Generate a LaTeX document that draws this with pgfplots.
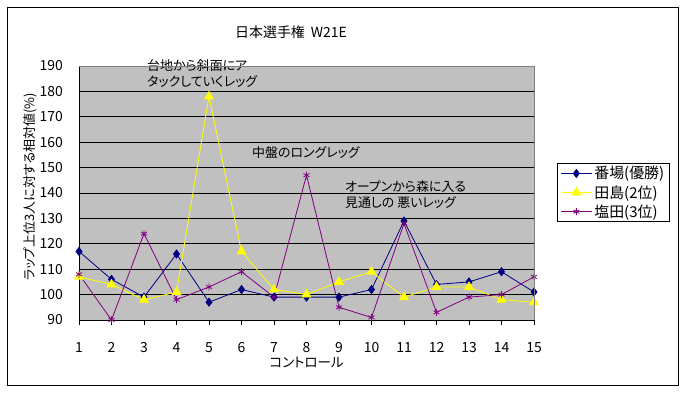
\documentclass[border=0pt]{standalone}
\usepackage{fontspec}
\setmainfont{Noto Sans CJK JP}[RawFeature=+palt]
\usepackage{pgfplots}
\pgfplotsset{compat=1.18}
\definecolor{plotbg}{HTML}{C0C0C0}
\definecolor{bordergray}{HTML}{808080}
\definecolor{navyc}{HTML}{000080}
\definecolor{yell}{HTML}{FFFF00}
\definecolor{purp}{HTML}{800080}
\newcommand{\fs}[1]{\fontsize{#1}{#1}\selectfont}
\begin{document}
\begin{tikzpicture}
\path[use as bounding box] (0bp,0bp) rectangle (687bp,394bp);
\draw[line width=1bp] (7.5bp,8bp) rectangle (678.5bp,386.5bp);
\begin{axis}[
  at={(79bp,74bp)}, anchor=south west,
  scale only axis, width=455bp, height=254bp,
  xmin=1, xmax=15, ymin=90, ymax=190,
  xtick={1,...,15}, ytick={90,100,...,190},
  /pgf/number format/assume math mode=true,
  tick label style={font=\fs{14}},
  xticklabel style={anchor=base, inner sep=0pt, yshift=-27bp},
  yticklabel style={anchor=east, inner sep=0pt, xshift=-11bp},
  tick align=outside,
  x tick style={black, line width=0.8bp},
  xtick pos=bottom, ytick pos=left,
  major tick length=5bp,
  y tick style={draw=none},
  axis x line*=bottom, axis y line*=left,
  axis line style={-, black, line width=0.8bp},
  axis background/.style={fill=plotbg},
  ymajorgrids, grid style={black, line width=0.8bp},
  clip=false,
  xlabel={コントロール},
  xlabel style={font=\fs{13.5}, at={(axis description cs:0.5,0)}, anchor=center, yshift=-42bp},
  ylabel={ラップ上位3人に対する相対値(\%)},
  ylabel style={font=\fs{13}, at={(axis description cs:-0.106,0.524)}, anchor=center},
  legend style={at={(1.0505,0.618)}, anchor=north west, draw=black, line width=0.8bp,
    font=\fs{15}, inner xsep=3bp, inner ysep=1bp, row sep=1bp, fill=white},
  legend cell align=left,
  legend image code/.code={\draw[mark repeat=2,mark phase=2,#1] plot coordinates {(0cm,0cm) (0.55cm,0cm) (1.1cm,0cm)};},
  after end axis/.code={\draw[bordergray, line width=0.8bp] (rel axis cs:0,1) -- (rel axis cs:1,1) -- (rel axis cs:1,0);},
]
\addplot[navyc, line width=0.8bp, mark=diamond*, mark size=4bp, mark options={fill=navyc, draw=navyc}] coordinates {
(1,117) (2,106) (3,99) (4,116) (5,97) (6,102) (7,99) (8,99) (9,99) (10,102) (11,129) (12,104) (13,105) (14,109) (15,101)};
\addlegendentry{番場(優勝)}
\addplot[yell, line width=0.8bp, mark=triangle*, mark size=5bp, mark options={fill=yell, draw=yell}] coordinates {
(1,107) (2,104) (3,98) (4,101) (5,178) (6,117) (7,102) (8,100) (9,105) (10,109) (11,99) (12,103) (13,103) (14,98) (15,97)};
\addlegendentry{田島(2位)}
\addplot[purp, line width=0.8bp, mark=asterisk, mark size=3.5bp, mark options={draw=purp}] coordinates {
(1,108) (2,90) (3,124) (4,98) (5,103) (6,109) (7,99) (8,147) (9,95) (10,91) (11,128) (12,93) (13,99) (14,100) (15,107)};
\addlegendentry{塩田(3位)}
\node[anchor=west, align=left, font=\fs{13}, inner sep=0pt] at (axis cs:3.09,187.2) {台地から斜面にア\\[3bp]タックしていくレッグ};
\node[anchor=west, font=\fs{13}, inner sep=0pt] at (axis cs:6.32,156.1) {中盤のロングレッグ};
\node[anchor=west, align=left, font=\fs{13}, inner sep=0pt] at (axis cs:9.18,139.2) {オープンから森に入る\\[3bp]見通しの 悪いレッグ};
\end{axis}
\node[font=\fs{14}] at (291bp,362bp) {日本選手権\hspace{6bp}W21E};
\end{tikzpicture}
\end{document}
